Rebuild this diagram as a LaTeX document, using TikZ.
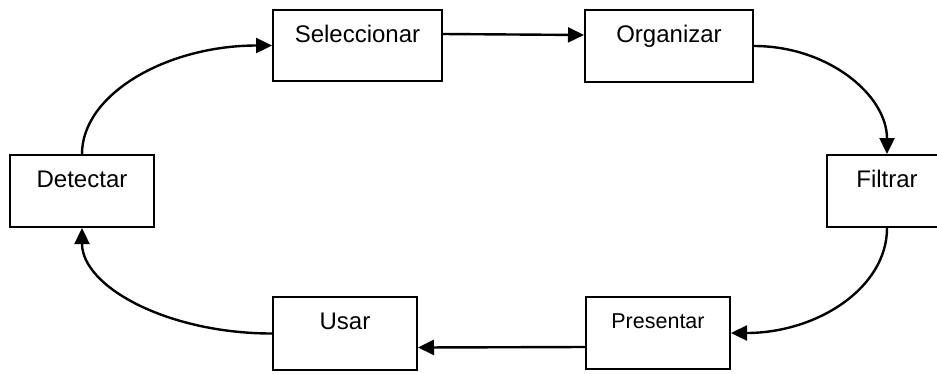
\documentclass[tikz,border=0pt]{standalone}
\usepackage{fontspec}
\setmainfont{Liberation Sans}
\usetikzlibrary{arrows.meta}
\tikzset{
  stagebox/.style={draw, line width=2pt, inner sep=0pt, align=center,
    text height=32pt, font=\fontsize{24}{28}\selectfont},
  conn/.style={line width=2.4pt, -{Triangle[length=16pt,width=15pt]}}
}
\begin{document}
\begin{tikzpicture}[x=1pt,y=-1pt]
\useasboundingbox (0,0) rectangle (937,373);
\clip (0,0) rectangle (937,373);
\node[stagebox, minimum width=169pt, text depth=39pt] (sel) at (357.5,45.5) {Seleccionar};
\node[stagebox, minimum width=168pt, text depth=40pt] (org) at (669,46) {Organizar};
\node[stagebox, minimum width=144pt, text depth=40pt] (det) at (82,191) {Detectar};
\node[stagebox, minimum width=120pt, text depth=40pt] (fil) at (887,191) {Filtrar};
\node[stagebox, minimum width=144pt, text depth=41pt] (usa) at (345,333.5) {Usar};
\node[stagebox, minimum width=144pt, text height=31pt, text depth=41pt,
      font=\fontsize{21.5}{25}\selectfont] (pre) at (658,333) {Presentar};
\draw[conn] (det.north) .. controls +(0,-60) and +(-105,0) .. (sel.west);
\draw[conn] ([yshift=11.5pt]sel.east) -- ([yshift=11pt]org.west);
\draw[conn] (org.east) .. controls +(74,0) and +(0,-59) .. (fil.north);
\draw[conn] (fil.south) .. controls +(0,60) and +(86,0) .. (pre.east);
\draw[conn] ([yshift=-14pt]pre.west) -- ([yshift=-14pt]usa.east);
\draw[conn] (usa.west) .. controls +(-104,0) and +(0,59) .. (det.south);
\end{tikzpicture}
\end{document}
